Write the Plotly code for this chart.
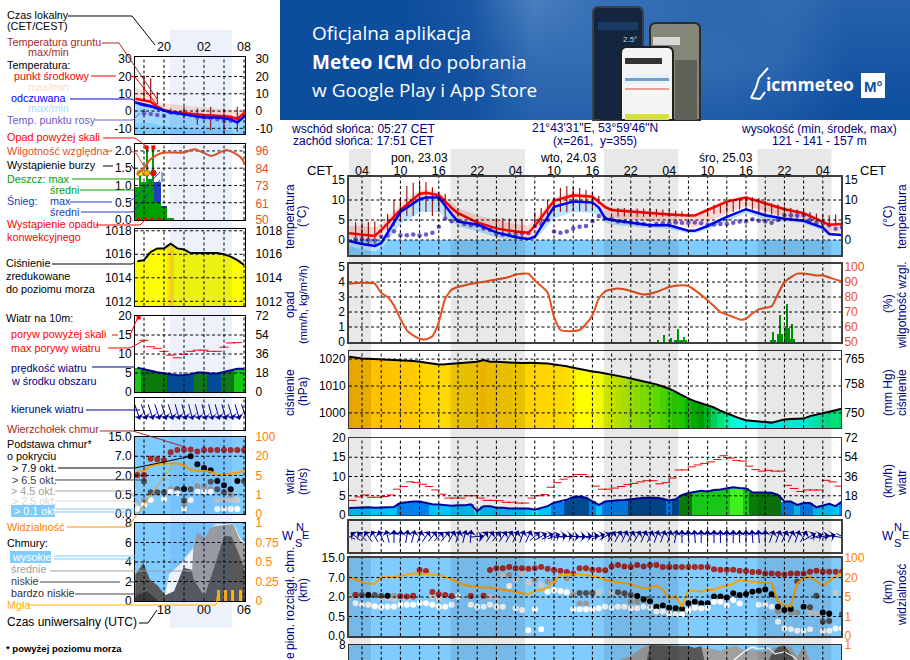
import numpy as np
import plotly.graph_objects as go

W, H = 910, 660
FONT = "Liberation Sans"
SKY = "#80ccff"
NAVY = "#000080"
ORANGE = "#ff8000"
HUM = "#e8501e"
DKRED = "#a52a2a"

# ---- main meteogram, hours counted from 23.03 00:00 CET
hours = list(range(2, 80))
knots = [2, 4, 6, 7, 10, 13, 14, 16, 18, 19, 22, 25, 28, 30, 31, 34, 37, 40, 41, 42, 43, 46, 49, 52, 55, 56, 58, 61, 64, 67, 70, 73, 76, 77, 79]
temp_mid = [1.7, 1.4, 1.0, 2.5, 7.5, 11.5, 11.8, 11.2, 8.0, 6.7, 4.4, 2.9, 2.1, 1.8, 3.5, 9.8, 11.2, 10.8, 9.6, 8.2, 7.5, 7.1, 6.8, 6.4, 6.1, 6.1, 7.5, 9.6, 10.6, 9.2, 7.7, 6.7, 4.6, 3.8, 4.0]
temp_felt = [-0.25, -1.0, -1.5, -0.8, 7.0, 10.2, 10.6, 10.6, 6.5, 4.6, 3.9, 1.9, 0.7, 0.25, 0.8, 8.3, 9.6, 9.4, 8.1, 5.4, 5.0, 4.4, 3.7, 3.7, 2.3, 2.3, 3.5, 5.8, 7.7, 6.2, 5.3, 4.8, 3.1, 1.5, 1.2]
temp_mid_hi = [3.5, 3.5, 3.2, 4.0, 9.0, 12.5, 12.6, 12.0, 9.5, 8.0, 6.2, 5.0, 4.0, 3.6, 5.0, 10.6, 12.0, 11.4, 10.2, 8.8, 8.2, 7.7, 7.3, 6.9, 6.6, 6.5, 7.9, 10.0, 11.1, 9.7, 8.2, 7.1, 5.2, 4.3, 4.4]
temp_mid_lo = [0.5, 0.2, -0.2, 1.0, 5.5, 8.0, 8.2, 7.8, 6.0, 4.8, 3.4, 1.4, 0.6, 0.4, 1.2, 6.5, 7.5, 7.4, 7.4, 6.0, 5.4, 5.2, 4.6, 4.6, 3.2, 3.0, 4.6, 6.6, 8.6, 7.2, 6.0, 5.4, 3.8, 2.2, 1.8]
temp_felt_lo = [-1.5, -2.4, -2.9, -2.2, 4.0, 6.8, 7.0, 7.0, 4.8, 3.4, 2.2, 0.6, 0.0, -0.4, -0.2, 5.4, 7.0, 6.8, 6.2, 4.4, 3.8, 3.4, 3.0, 2.8, 1.6, 1.6, 2.6, 4.6, 6.8, 5.2, 4.6, 4.2, 2.4, 1.2, 0.9]
ground_hours = [3, 4, 5, 6, 8, 9, 10, 11, 12, 13, 14, 15, 16, 17, 25, 26, 27, 28, 29, 31, 32, 33, 34, 35, 36, 37, 38, 39, 40, 41, 44, 45, 46, 47, 48, 49, 50, 51, 52, 53, 54, 55, 58, 59, 60, 61, 62, 63, 64, 65, 66, 67, 68, 69, 70, 71, 72, 73, 74, 75, 76, 77, 78]
ground_hi = [4.4, 4.4, 4.5, 4.6, 6.5, 10.0, 10.5, 13.5, 14.3, 14.3, 14.5, 13.2, 12.0, 11.5, 5.5, 5.5, 5.4, 5.4, 5.3, 7.0, 8.0, 10.0, 10.5, 13.0, 13.5, 13.3, 13.0, 12.5, 12.0, 11.0, 8.0, 8.0, 8.0, 7.9, 7.9, 7.8, 7.8, 7.6, 7.4, 7.3, 7.2, 7.0, 8.0, 8.8, 9.3, 9.8, 10.2, 10.6, 10.7, 10.7, 10.5, 9.8, 9.2, 8.9, 8.4, 8.0, 7.6, 7.4, 7.0, 6.6, 6.4, 6.2, 6.4]
ground_lo = [-1.0, -1.0, -1.0, -1.0, 2.0, 3.5, 5.0, 6.0, 6.0, 7.0, 7.0, 6.0, 7.0, 5.0, 1.0, 0.9, 0.8, 0.6, 0.6, 3.0, 4.0, 5.0, 6.0, 7.0, 7.0, 7.2, 7.2, 7.2, 7.4, 9.0, 5.9, 5.9, 5.9, 5.8, 5.8, 5.8, 5.8, 5.8, 5.8, 5.8, 5.8, 5.9, 6.0, 6.5, 6.7, 6.7, 7.0, 7.6, 8.0, 7.6, 7.0, 6.6, 6.4, 6.0, 5.5, 5.0, 5.0, 5.0, 4.4, 3.8, 3.5, 3.5, 3.6]
dew_hours = list(range(3, 80))
dew_point = [0.2, 0.2, 0.0, -0.1, 0.8, 1.1, 2.2, 1.2, 1.2, 1.4, 1.1, 1.4, 1.8, 3.3, 5.4, 4.7, 4.8, 4.0, 3.7, 3.7, 2.9, 2.5, 1.5, 1.4, 1.4, 1.4, 1.7, 1.7, 3.5, 4.0, 5.0, 2.1, 1.8, 2.1, 2.9, 3.3, 3.5, 4.7, 6.0, 5.4, 5.3, 4.6, 4.6, 4.3, 4.2, 4.0, 3.7, 4.0, 4.2, 4.2, 4.4, 4.3, 4.3, 4.4, 4.2, 3.9, 3.9, 4.0, 4.0, 4.3, 4.6, 4.6, 5.2, 4.8, 4.6, 4.3, 5.0, 6.2, 6.2, 6.1, 6.2, 5.0, 4.3, 4.2, 3.7, 2.8, 3.2]

hum_hours = [2, 4, 6, 7, 8, 9, 10, 11, 12, 13, 14, 15, 16, 17, 18, 19, 22, 25, 27, 28, 30, 31, 33, 34, 35, 36, 37, 38, 39, 40, 41, 42, 44, 46, 48, 50, 52, 54, 55, 58, 60, 62, 63, 64, 65, 66, 68, 69, 70, 72, 73, 75, 76, 78, 79]
humidity = [88.9, 89.5, 88.9, 82.7, 80.0, 74.4, 65.5, 57.8, 54.4, 52.2, 51.8, 53.8, 63.3, 78.9, 84.9, 86.7, 89.5, 91.6, 93.3, 95.0, 95.5, 91.0, 83.0, 66.7, 58.0, 57.3, 57.3, 58.0, 62.0, 67.8, 79.0, 83.8, 85.6, 84.0, 81.6, 83.3, 86.7, 87.8, 87.3, 77.8, 70.0, 66.7, 65.0, 65.5, 69.0, 71.8, 73.8, 82.0, 90.0, 95.6, 95.6, 94.4, 94.4, 91.6, 90.4]
rain_hours = [50.3, 51.2, 52.3, 53.3, 54.3, 68.2, 69.3, 70.4, 71.2]
rain_max = [0.1, 0.45, 0.3, 0.9, 0.35, 0.65, 1.8, 2.55, 1.2]
rain_mean = [0.0, 0.0, 0.0, 0.12, 0.12, 0.12, 0.55, 0.93, 0.2]

pressure = [1020.9, 1020.5, 1020.2, 1020.1, 1020.0, 1020.0, 1019.9, 1019.7, 1019.6, 1019.5, 1019.3, 1019.0, 1018.6, 1018.2, 1018.0, 1018.1, 1018.3, 1018.5, 1018.7, 1018.9, 1019.0, 1019.6, 1019.0, 1019.0, 1018.9, 1018.7, 1018.5, 1018.5, 1018.6, 1018.6, 1018.6, 1018.4, 1018.0, 1017.7, 1017.3, 1016.8, 1016.3, 1015.8, 1015.4, 1015.1, 1014.7, 1014.3, 1013.8, 1013.3, 1012.8, 1012.3, 1011.8, 1011.3, 1010.6, 1009.8, 1009.0, 1007.8, 1006.5, 1005.3, 1004.4, 1003.6, 1002.9, 1002.0, 1000.8, 999.8, 998.8, 998.0, 997.3, 997.0, 996.8, 996.6, 996.4, 997.0, 997.6, 997.7, 997.8, 997.9, 998.8, 999.3, 999.8, 1000.3, 1001.0, 1001.6]
wind = [1.8, 1.9, 2.0, 2.0, 1.9, 2.0, 2.1, 2.1, 3.1, 3.3, 3.5, 3.5, 3.2, 2.8, 2.7, 2.5, 2.4, 2.5, 2.5, 2.8, 1.0, 2.3, 2.3, 1.9, 1.9, 1.7, 1.7, 1.6, 1.7, 1.4, 1.9, 2.3, 3.2, 3.5, 4.0, 4.6, 4.8, 4.5, 3.6, 2.6, 3.5, 3.7, 3.8, 3.9, 4.1, 4.4, 4.5, 4.5, 4.5, 4.2, 3.8, 4.1, 5.2, 5.7, 6.0, 6.3, 6.1, 6.5, 6.6, 6.9, 7.2, 7.0, 6.9, 5.9, 5.9, 5.9, 5.8, 5.2, 3.5, 3.5, 2.6, 3.1, 3.1, 2.0, 2.4, 2.9, 2.3, 3.5]
gusts = [3.8, 4.7, 5.2, 4.6, 4.6, 4.8, 5.2, 6.7, 7.4, 8.6, 8.4, 8.0, 7.4, 6.5, 5.4, 4.4, 4.4, 4.4, 5.0, 5.0, 4.4, 3.8, 3.8, 3.7, 3.3, 3.3, 3.1, 3.1, 4.4, 5.0, 5.3, 7.2, 8.4, 9.3, 9.9, 10.5, 10.5, 9.9, 7.5, 6.7, 6.7, 7.0, 7.4, 7.9, 8.2, 8.6, 8.9, 8.9, 8.1, 8.4, 9.6, 11.7, 11.7, 12.5, 13.0, 13.4, 13.8, 14.4, 15.4, 14.8, 14.2, 14.0, 12.7, 11.8, 11.4, 11.6, 11.4, 11.4, 7.7, 6.9, 6.1, 6.5, 6.5, 6.5, 9.0, 8.6, 7.5]
wind_dir = [295, 310, 315, 325, 330, 335, 345, 0, 5, 10, 15, 20, 35, 40, 45, 40, 30, 20, 15, 5, 85, 40, 35, 40, 35, 30, 25, 20, 25, 50, 60, 65, 70, 80, 85, 90, 90, 85, 80, 70, 60, 35, 30, 25, 30, 30, 25, 25, 20, 20, 15, 10, 0, 355, 355, 0, 0, 0, 0, 0, 0, 0, 0, 355, 355, 0, 20, 20, 25, 25, 20, 30, 60, 70, 80, 75, 100, 120]

# cloud base, heights on the axis' five-step scale (0.0, 0.5, 2, 7, 15 km)
top_hours = [3, 10, 11, 12, 13, 14, 15, 16, 17, 18, 21, 23] + list(range(24, 80))
top_level = [2.1, 2.04, 2.02, 2.07, 3.38, 3.33, 2.26, 2.14, 2.1, 2.05, 2.05, 2.07, 3.38, 3.47, 3.47, 3.54, 3.47, 3.47, 3.45, 3.47, 3.54, 3.45, 3.38, 3.35, 3.28, 3.21, 3.47, 3.47, 3.4, 3.38, 3.37, 3.56, 3.64, 3.56, 3.54, 3.64, 3.56, 3.64, 3.64, 3.54, 3.54, 3.54, 3.54, 3.54, 3.54, 3.54, 3.54, 3.42, 3.4, 3.4, 3.4, 3.35, 3.33, 3.28, 3.28, 3.2, 3.2, 3.18, 3.16, 3.2, 3.2, 3.2, 3.3, 3.35, 3.3, 3.3, 3.3, 3.3]
black_hours = [5, 8, 47, 48, 49, 50, 51, 52, 53, 54, 55, 56, 57, 58, 59, 60, 61, 62, 63, 64, 65, 66, 67, 68, 69, 70, 71, 73, 76, 77]
black_level = [2.1, 2.07, 2.05, 1.88, 1.78, 1.5, 1.56, 1.45, 1.42, 1.39, 1.68, 1.76, 1.68, 1.68, 2.02, 2.02, 1.98, 2.19, 2.1, 2.15, 2.27, 2.32, 2.39, 2.14, 1.5, 1.33, 1.38, 1.5, 1.2, 1.16]
dark_hours = [3, 4, 6, 7, 38, 39, 40, 44, 45, 46, 72, 74, 75, 79, 76, 77]
dark_level = [2.1, 2.1, 2.1, 2.07, 2.2, 2.2, 2.2, 2.24, 2.19, 2.1, 2.8, 1.47, 2.07, 1.12, 0.73, 0.77]
grey_hours = [9, 10, 12, 27, 31, 33, 34, 36, 37, 46, 47, 48, 53, 54, 69, 71, 72, 38, 39]
grey_level = [2.07, 2.05, 2.0, 3.13, 2.87, 2.79, 2.82, 2.96, 2.12, 1.76, 1.76, 1.82, 1.25, 1.16, 1.25, 1.2, 1.2, 1.67, 1.67]
light_hours = [2, 7, 8, 9, 11, 15, 16, 23, 24, 25, 26, 28, 29, 30, 32, 35, 36, 41, 43, 74, 75, 78, 79]
light_level = [2.0, 1.95, 1.95, 1.9, 1.95, 2.0, 1.9, 2.05, 2.0, 1.95, 3.13, 2.87, 3.2, 2.74, 2.62, 2.3, 2.25, 2.25, 2.2, 1.2, 1.15, 2.2, 1.1]
white_hours = [3, 4, 5, 6, 7, 8, 9, 10, 11, 12, 13, 14, 15, 16, 17, 18, 19, 21, 22, 23, 24, 25, 26, 27, 28, 29, 30, 31, 32, 33, 34, 35, 36, 37, 38, 39, 40, 41, 42, 43, 44, 45, 46, 47, 48, 49, 50, 51, 52, 53, 54, 55, 56, 57, 58, 59, 60, 61, 62, 63, 66, 67, 68, 69, 70, 71, 72, 73, 74, 76, 77, 78, 79]
white_level = [1.68, 1.6, 1.6, 1.52, 1.49, 1.5, 1.5, 1.6, 1.6, 1.6, 1.68, 1.68, 1.6, 1.5, 1.5, 1.6, 2.02, 1.6, 1.5, 1.5, 1.6, 1.5, 1.5, 2.56, 1.42, 1.33, 0.3, 1.37, 0.34, 2.27, 2.36, 2.31, 2.24, 1.37, 1.37, 1.37, 1.37, 1.42, 1.5, 1.45, 1.5, 1.5, 1.42, 1.42, 1.5, 1.45, 1.25, 1.25, 1.16, 1.11, 1.11, 1.33, 1.45, 1.42, 1.45, 1.75, 1.75, 1.58, 1.84, 1.67, 1.6, 1.6, 1.5, 0.73, 0.39, 0.34, 0.27, 0.27, 0.34, 0.26, 0.27, 0.39, 0.39]
vis_level = [3.01, 2.91, 2.75, 2.68, 2.68, 3.01, 3.01, 3.01, 3.09, 3.16, 3.21, 3.21, 3.2, 3.16, 3.13, 3.04, 2.91, 2.75, 2.62, 2.56, 2.51, 2.48, 2.5, 2.41, 2.38, 2.32, 2.27, 2.19, 2.14, 2.31, 2.36, 2.48, 2.79, 3.13, 3.15, 3.16, 3.15, 3.13, 3.08, 3.01, 2.87, 2.82, 2.75, 2.7, 2.65, 2.53, 2.44, 2.48, 2.58, 2.39, 1.9, 2.07, 1.5, 2.36, 2.31, 2.27, 2.39, 2.36, 2.51, 2.58, 2.7, 2.87, 2.82, 2.79, 2.75, 2.74, 2.7, 1.76, 1.56, 1.52, 2.7, 2.96, 3.04, 2.82, 2.58, 2.82, 3.04, 3.21]

strip_mid_h = [44, 46, 48, 49, 58, 60, 61.5, 62.5, 63.5, 65, 67, 68, 69.6, 71, 72, 73, 74]
strip_mid = [6.4, 6.9, 7.8, 8.0, 7.7, 7.4, 7.8, 7.9, 7.5, 7.5, 7.3, 7.6, 8.0, 7.8, 6.8, 7.9, 6.4]
strip_low_h = [48.5, 49, 55, 56, 57, 57.5, 67.5, 68, 69, 70, 71, 71.5]
strip_low = [6.4, 8.0, 7.9, 7.7, 7.9, 6.4, 6.4, 7.0, 7.8, 7.9, 7.1, 6.4]
strip_high_h = [62, 63.5, 64.9, 66, 67.5, 68.5, 70, 71.5, 72]
strip_high = [6.4, 7.2, 7.8, 7.6, 7.7, 7.1, 7.3, 6.8, 6.4]

# ---- left legend meteogram
l_hours = list(range(16, 33))
l_temp_h = [15.7, 17, 18, 19, 20, 21, 22, 24, 26, 28, 30, 31, 32.2]
l_temp_mid = [7.1, 6.3, 5.4, 2.5, 0.6, -0.4, -0.8, -1.3, -2.3, -2.7, -3.3, -4.6, -0.5]
l_temp_felt = [5.0, 4.0, 2.9, 1.5, 0.2, -0.8, -1.3, -2.3, -3.7, -3.7, -4.8, -6.7, -2.6]
l_temp_hi = [13.7, 12.0, 10.2, 5.4, 4.5, 4.0, 3.5, 2.8, 2.1, 1.4, 0.6, 0.4, 0.4]
l_temp_lo = [3.0, 2.0, 1.0, -0.5, -1.5, -2.0, -3.0, -4.0, -5.0, -5.5, -6.5, -8.0, -4.0]
l_felt_lo = [-7.0, -7.0, -7.0, -8.0, -9.0, -9.0, -10.0, -10.0, -10.5, -10.5, -11.0, -13.0, -8.0]
l_ground_h = [17, 18, 19, 21, 23, 25, 27, 29, 31]
l_ground_hi = [20.8, 19.0, 11.0, 1.5, 2.5, 1.5, 2.5, 1.5, 2.5]
l_ground_lo = [6.0, 5.0, 4.0, -2.0, -4.5, -8.0, -11.0, -13.0, -12.0]
l_dew_h = [17, 18, 19, 20, 21, 22, 23, 24, 25, 26, 27, 28, 29, 30, 31]
l_dew = [-1.3, -1.7, -2.3, -2.7, -0.8, -1.3, -1.7, -2.3, -3.7, -3.7, -4.2, -4.8, -5.6, -5.6, -4.2]

l_rain_h = [16, 17, 18, 19, 20, 21]
l_rain = [0.96, 1.1, 1.18, 0.52, 0.34, 0.05]
l_snow = [0.96, 1.1, 1.18, 1.1, 0.41, 0.05]
l_rain_max_h = [16.4, 17.4, 18.4]
l_rain_max = [1.36, 2.1, 2.1]
l_storm_h = [16.4, 17.4, 18.4]
l_storm_col = ["#ffff00", "#ffb000", "#ff0000"]
l_hum_h = [15.9, 16.9, 17.9, 18.9, 20, 22.9, 24.6, 27.1, 29.4, 31.4, 32.2]
l_hum = [80, 84, 90, 93, 94.7, 94.7, 97, 92.5, 96.5, 92, 87]
l_conv_h = [16.2, 17.2, 18.2, 19.2]
l_above_h = [17.4, 18.4]

l_pressure = [1015.4, 1015.5, 1016.2, 1016.5, 1016.5, 1016.9, 1016.5, 1016.4, 1016.1, 1016.1, 1016.1, 1016.1, 1016.1, 1016.0, 1015.8, 1015.5, 1015.1]
l_wind = [6.4, 5.9, 5.6, 5.2, 5.0, 4.7, 4.4, 4.4, 4.7, 5.1, 5.1, 4.9, 4.9, 5.3, 5.8, 6.1, 6.1]
l_gust_h = [17, 18, 19, 20, 21, 22, 23, 24, 25, 26, 27, 28, 29, 30, 31]
l_gust = [13.6, 11.9, 11.5, 10.7, 9.7, 9.0, 9.9, 10.7, 11.0, 11.0, 10.7, 10.7, 11.8, 12.9, 13.0]
l_dir = [161, 161, 162, 162, 163, 163, 164, 164, 165, 165, 165, 165, 164, 164, 163, 163, 162]

l_top_h = [16, 17, 18, 19, 20, 21, 22, 23, 24, 25, 26, 27, 28, 29, 30, 31, 32]
l_top = [2.02, 2.02, 2.87, 2.84, 2.79, 3.21, 3.33, 3.35, 3.35, 3.25, 3.33, 3.33, 3.33, 3.33, 3.33, 3.33, 3.33]
l_black_h = [24, 25, 26, 27, 28, 29, 30, 31, 23]
l_black = [3.0, 2.58, 2.39, 2.27, 1.72, 1.5, 1.28, 1.72, 1.3]
l_dark_h = [17, 18, 19, 20, 22, 24, 27, 28, 29, 32, 23]
l_dark = [1.7, 1.13, 1.13, 1.13, 1.28, 1.28, 1.68, 1.28, 1.13, 1.72, 0.7]
l_grey_h = [17, 21, 22, 25, 26, 27, 30, 23]
l_grey = [0.7, 1.28, 1.28, 1.45, 1.43, 1.28, 1.0, 0.53]
l_light_h = [16, 21, 25, 28, 29, 30, 31]
l_light = [0.43, 1.28, 1.5, 0.73, 0.73, 0.73, 0.73]
l_white_h = [16, 17, 18, 20, 21, 22, 23, 24, 25, 26, 27, 28, 29, 30, 31]
l_white = [0.26, 0.48, 0.73, 0.77, 1.16, 1.08, 0.26, 0.73, 1.16, 1.16, 1.16, 0.26, 0.26, 0.26, 0.26]
l_vis_h = [16, 17, 18, 19, 20, 21, 22, 23, 24, 25, 26, 27, 28, 29, 30, 31, 32.2]
l_vis = [2.24, 2.24, 2.5, 2.58, 2.62, 2.62, 2.62, 2.53, 2.31, 2.24, 2.24, 2.19, 2.05, 2.05, 2.1, 2.14, 2.27]

l_high_h = [20.15, 20.9, 22.4, 23.4, 24.65, 26.15, 26.9, 27.65, 30.4, 31.4, 32.15]
l_high = [0.3, 2.8, 3.7, 4.5, 5.6, 5.9, 7.3, 7.8, 7.9, 6.4, 5.8]
l_mid_h = [24.15, 24.4, 25, 26.15, 26.9, 27.65, 30.4, 31.4, 32.15]
l_mid = [2.3, 5.4, 7.1, 6.4, 7.5, 7.7, 7.9, 6.3, 5.6]
l_low_h = [15.7, 16.9, 17.9, 19.15, 20.15, 21.5, 22.9, 24.15, 24.4, 26.05, 27.65, 29.05, 30.15, 31.4, 32.15]
l_low = [2.7, 3.9, 2.2, 1.5, 0.6, 1.0, 3.4, 3.2, 2.3, 0.45, 3.7, 6.7, 6.6, 4.5, 3.0]
l_vlow_h = [15.7, 17.4, 18.65, 19.15]
l_vlow = [0.45, 1.0, 0.3, 0.0]
l_fog_h = [28.15, 29.25, 30.3, 31.4]
l_fog = [0.14, 0.14, 0.14, 0.14]

banner_z = [[0, 0, 0, 0.2, 1, 0.7, 0.6, 0.5, 0.6, 0.4, 0.4],
            [0, 0, 0, 0.1, 0.6, 0.6, 0.6, 0.6, 0.5, 0.2, 0.2],
            [0, 0, 0, 0.1, 0.4, 0.4, 0.3, 0.3, 0.2, 0, 0]]

P_SCALE = [[0, "#00ffff"], [0.1, "#00ffe0"], [0.16, "#00f090"], [0.24, "#00d060"], [0.3, "#009a00"], [0.4, "#10c000"],
           [0.52, "#40e000"], [0.6, "#70f000"], [0.68, "#b0f000"], [0.74, "#e0f800"], [0.78, "#ffff00"], [0.825, "#ffff00"],
           [0.835, "#ffe000"], [0.9, "#ffd500"], [0.94, "#ffc800"], [1, "#ffb000"]]
W_EDGES = [0, 0.15, 0.3, 0.4, 0.5, 0.595, 0.7, 1]
W_COLS = ["#00f0ff", "#00c4ff", "#0080f0", "#004a90", "#0a7a0a", "#18c818", "#40f020"]
W_SCALE = []
for i, c in enumerate(W_COLS):
    W_SCALE += [[W_EDGES[i], c], [W_EDGES[i + 1], c]]

fig = go.Figure()
layout = {}
shapes = []
notes = []


def panel(n, x0, x1, y0, y1, xr, yr, lt=None, ltxt=None, rt=None, rtxt=None, rr=None, rcol="black", rlen=0,
          frame="black", lw=1, size=12):
    base = dict(showgrid=False, zeroline=False, showline=True, mirror=True, linecolor=frame, linewidth=lw, fixedrange=True)
    layout[f"xaxis{n}"] = dict(base, domain=[x0 / W, x1 / W], range=xr, anchor=f"y{n}", showticklabels=False, ticks="")
    layout[f"yaxis{n}"] = dict(base, domain=[1 - y1 / H, 1 - y0 / H], range=yr, anchor=f"x{n}",
                               tickvals=lt or [], ticktext=ltxt or [], ticks="", ticklen=0,
                               tickfont=dict(family=FONT, size=size, color="black"))
    if rt is not None:
        layout[f"yaxis{n + 50}"] = dict(showgrid=False, zeroline=False, showline=False, fixedrange=True,
                                        domain=[1 - y1 / H, 1 - y0 / H], range=rr, overlaying=f"y{n}", side="right",
                                        anchor=f"x{n}", tickvals=rt, ticktext=rtxt, ticks="outside", ticklen=rlen,
                                        tickcolor="rgba(0,0,0,0)", tickfont=dict(family=FONT, size=size, color=rcol))
        add(n, [None], [None], mode="lines", yaxis=f"y{n + 50}")


def add(n, x, y, **kw):
    kw.setdefault("yaxis", f"y{n}")
    fig.add_trace(go.Scatter(x=x, y=y, xaxis=f"x{n}", hoverinfo="skip", showlegend=False, **kw))


def add_bar(n, x, y, color, width=1.0, **kw):
    kw.setdefault("yaxis", f"y{n}")
    fig.add_trace(go.Bar(x=x, y=y, xaxis=f"x{n}", width=width, marker=dict(color=color, line_width=0, **kw.pop("mk", {})),
                         hoverinfo="skip", showlegend=False, **kw))


def grid(n, xt, yt):
    xr = layout[f"xaxis{n}"]["range"]
    yr = layout[f"yaxis{n}"]["range"]
    xs, ys = [], []
    for t in xt:
        xs += [t, t, None]
        ys += [yr[0], yr[1], None]
    for t in yt:
        xs += [xr[0], xr[1], None]
        ys += [t, t, None]
    add(n, xs, ys, mode="lines", line=dict(color="black", width=1, dash="3px,2.5px"))


def band(n, x, hi, lo, color):
    add(n, x, lo, mode="lines", line=dict(width=0, color=color))
    add(n, x, hi, mode="lines", line=dict(width=0, color=color), fill="tonexty", fillcolor=color)


def spans(n, x, hi, lo, color, width=1.2):
    xs, ys = [], []
    for t, a, b in zip(x, hi, lo):
        xs += [t, t, None]
        ys += [b, a, None]
    add(n, xs, ys, mode="lines", line=dict(color=color, width=width))


def sky(n):
    shapes.append(dict(type="rect", xref=f"x{n} domain", yref=f"y{n} domain", x0=0, x1=1, y0=0, y1=1,
                       fillcolor=SKY, line_width=0, layer="below"))


def arrows(n, h, deg, half, pxh, yc):
    rad = np.radians(deg)
    xs, ys = [], []
    for t, a in zip(h, rad):
        xs += [t - half * np.sin(a) / pxh, t + half * np.sin(a) / pxh, None]
        ys += [yc - half * np.cos(a), yc + half * np.cos(a), None]
    add(n, xs, ys, mode="lines", line=dict(color="#000090", width=1), cliponaxis=False)
    tipx = [t + half * np.sin(a) / pxh for t, a in zip(h, rad)]
    tipy = [yc + half * np.cos(a) for a in rad]
    add(n, tipx, tipy, mode="markers", cliponaxis=False,
        marker=dict(symbol="arrow-wide", size=9, angle=[float(d) for d in deg], color="#000090", line_width=0))


def dots(n, x, y, color, size=6):
    add(n, x, y, mode="markers", marker=dict(color=color, size=size, line_width=0))


def note(x, y, text, color="black", anchor="left", size=12, angle=0, bg=None, family=FONT):
    notes.append(dict(x=x / W, y=1 - y / H, xref="paper", yref="paper", text=text, showarrow=False, xanchor=anchor,
                      yanchor="middle", textangle=angle, font=dict(family=family, size=size, color=color),
                      bgcolor=bg, borderpad=0))


def leader(color, *pts, width=1):
    path = "M" + " L".join(f"{x / W:.5f},{1 - y / H:.5f}" for x, y in pts)
    shapes.append(dict(type="path", xref="paper", yref="paper", path=path, line=dict(color=color, width=width), layer="above"))


# ---- banner
layout["xaxis30"] = dict(domain=[280 / W, 1], range=[0, 10], visible=False, fixedrange=True, anchor="y30")
layout["yaxis30"] = dict(domain=[1 - 120 / H, 1], range=[2, 0], visible=False, fixedrange=True, anchor="x30")
fig.add_trace(go.Heatmap(z=banner_z, xaxis="x30", yaxis="y30", zsmooth="best", showscale=False, hoverinfo="skip",
                         colorscale=[[0, "#0d4d9e"], [1, "#4a80bf"]], zmin=0, zmax=1))


def box(x0, y0, x1, y1, fill, line=None, lw=1):
    shapes.append(dict(type="rect", xref="paper", yref="paper", x0=x0 / W, x1=x1 / W, y0=1 - y1 / H, y1=1 - y0 / H,
                       fillcolor=fill, line=dict(color=line or fill, width=lw if line else 0), layer="above"))


def phone(x0, y0, x1, y1, fill, edge):
    r = 6
    path = (f"M{x0 / W:.5f},{1 - y1 / H:.5f} L{x0 / W:.5f},{1 - (y0 + r) / H:.5f} "
            f"Q{x0 / W:.5f},{1 - y0 / H:.5f} {(x0 + r) / W:.5f},{1 - y0 / H:.5f} "
            f"L{(x1 - r) / W:.5f},{1 - y0 / H:.5f} Q{x1 / W:.5f},{1 - y0 / H:.5f} {x1 / W:.5f},{1 - (y0 + r) / H:.5f} "
            f"L{x1 / W:.5f},{1 - y1 / H:.5f} Z")
    shapes.append(dict(type="path", xref="paper", yref="paper", path=path, fillcolor=fill,
                       line=dict(color=edge, width=2), layer="above"))


phone(593, 7, 643, 120, "#13253f", "#3a3f48")
box(598, 22, 638, 30, "#1c3a66")
box(600, 60, 620, 120, "#16263f")
phone(650, 23, 700, 120, "#85877a", "#2c2c2c")
box(653, 37, 680, 45, "#d8d8d8")
box(675, 60, 697, 120, "#5e6258")
phone(621, 47, 673, 120, "#f4f6f6", "#202020")
box(625, 58, 662, 64, "#333333")
box(625, 74, 669, 84, "#e9f2f8")
box(625, 78, 669, 81, "#6f9fcf")
box(625, 88, 669, 90, "#e8a090")
box(625, 114, 669, 120, "#d8e040")
box(861, 73, 885, 98, "#ffffff")
leader("#ffffff", (751, 98), (756, 88), (759, 78), (768, 68), width=2)
leader("#ffffff", (751, 98), (760, 99), (765, 92), width=2)
note(311, 33, "Oficjalna aplikacja", "white", size=19, family="Open Sans")
note(311, 62, "<b>Meteo ICM</b> do pobrania", "white", size=19, family="Open Sans")
note(311, 90, "w Google Play i App Store", "white", size=19, family="Open Sans")
note(765, 84, "<b>icmmeteo</b>", "white", size=17.5, family="Open Sans")
note(873, 86, "<b>M°</b>", "#0d4d9e", anchor="center", size=15)
note(622, 40, "2.5°", "#c8d4e4", size=8)

# ---- main panels
XM = [1.97, 78.84]
GM = list(range(4, 80, 3))
LX, RX = 349, 841
panel(8, LX, RX, 177, 255, XM, [-3.75, 15.75], [0, 5, 10, 15], ["0", "5", "10", "15"], [0, 5, 10, 15], ["0", "5", "10", "15"],
      [-3.75, 15.75], frame="#404040", lw=1.5)
layout["xaxis8"].update(showticklabels=True, side="top", tickvals=[4, 10, 16, 22, 28, 34, 40, 46, 52, 58, 64, 70, 76],
                        ticktext=["04", "10", "16", "22", "04", "10", "16", "22", "04", "10", "16", "22", "04"],
                        tickfont=dict(family=FONT, size=12.5, color="black"), ticklabelstandoff=-5)
shapes.append(dict(type="rect", xref="x8 domain", yref="y8", x0=0, x1=1, y0=-3.75, y1=0, fillcolor=SKY, line_width=0, layer="below"))
band(8, knots, temp_mid_hi, temp_mid_lo, "#ffd8d4")
band(8, knots, temp_felt, temp_felt_lo, "#b8e4ff")
spans(8, ground_hours, ground_hi, ground_lo, "#a01818")
dots(8, dew_hours, dew_point, "#6a5acd", 4.5)
add(8, knots, temp_mid, mode="lines", line=dict(color="#ff0000", width=2.5))
add(8, knots, temp_felt, mode="lines", line=dict(color="#0000ff", width=2.5))
grid(8, GM, [0, 5, 10])

panel(2, LX, RX, 264, 342, XM, [0, 5.2], [0, 1, 2, 3, 4, 5], ["0", "1", "2", "3", "4", "5"], [50, 60, 70, 80, 90, 100],
      ["50", "60", "70", "80", "90", "100"], [50, 102], rcol=HUM, frame="#404040", lw=1.5)
add_bar(2, rain_hours, rain_max, "#00a000", width=0.16)
add_bar(2, rain_hours, rain_mean, "#00a000", width=1.0)
add(2, hum_hours, humidity, yaxis="y52", mode="lines", line=dict(color=HUM, width=2, shape="spline", smoothing=0.5))
grid(2, GM, [1, 2, 3, 4])

panel(3, LX, RX, 351, 428, XM, [994.4, 1023], [1000, 1010, 1020], ["1000", "1010", "1020"], [750, 758, 765], ["750", "758", "765"],
      [745.9, 767], frame="#303030", lw=1)
add_bar(3, hours, pressure, pressure, mk=dict(colorscale=P_SCALE, cmin=996, cmax=1021))
add(3, hours, pressure, mode="lines", line=dict(color="black", width=2))
grid(3, GM, [1000, 1010, 1020])

panel(4, LX, RX, 438, 515, XM, [0, 20], [0, 5, 10, 15, 20], ["0", "5", "10", "15", "20"], [0, 18, 36, 54, 72], ["0", "18", "36", "54", "72"],
      [0, 72], frame="#404040", lw=1)
add_bar(4, hours, wind, wind, mk=dict(colorscale=W_SCALE, cmin=0, cmax=10))
add(4, hours, wind, mode="lines", line=dict(color="#0000a0", width=2))
add(4, [h + 0.5 for h in hours[:-1]], gusts, mode="markers", marker=dict(symbol="line-ew", size=6, line=dict(color="#ff0000", width=1)))
grid(4, GM, [5, 10, 15])

panel(5, LX, RX, 521, 552, XM, [-15.5, 15.5], frame="#404040", lw=1.5)
arrows(5, hours, np.array(wind_dir), 6.5, 6.4, 0)
grid(5, GM, [])

LEV = [0, 1, 2, 3, 4]
panel(6, LX, RX, 558, 636, XM, [0, 4], LEV, ["0.0", "0.5", "2.0", "7.0", "15.0"], LEV, ["0", "1", "5", "20", "100"], [0, 4], rcol=ORANGE,
      frame="#404040", lw=1.5)
sky(6)
dots(6, light_hours, light_level, "#c8c8c8")
dots(6, grey_hours, grey_level, "#989898")
dots(6, dark_hours, dark_level, "#505050")
dots(6, black_hours, black_level, "#000000")
dots(6, white_hours, white_level, "#ffffff")
dots(6, top_hours, top_level, "#a52a2a")
add(6, hours, vis_level, mode="lines", line=dict(color="#ffa000", width=2))
grid(6, GM, [1, 2, 3])

panel(7, LX, RX, 645, 660, XM, [6.46, 8], [8], ["8"], [8], ["1"], [6.46, 8], rcol=ORANGE, frame="#303030", lw=1)
sky(7)
add(7, strip_mid_h, strip_mid, mode="lines", line=dict(width=0), fill="tozeroy", fillcolor="#a0a0a0")
add(7, strip_low_h, strip_low, mode="lines", line=dict(width=0), fill="tozeroy", fillcolor="#585858")
add(7, strip_high_h, strip_high, mode="lines", line=dict(color="white", width=1.2))
grid(7, GM, [])

# ---- legend panels
XL = [15.65, 32.15]
GL = [17, 20, 23, 26, 29, 32]
LL, RL = 135, 245
panel(11, LL, RL, 57, 134, XL, [-13.3, 31.3], [-10, 0, 10, 20, 30], ["-10", "0", "10", "20", "30"], [-10, 0, 10, 20, 30],
      ["-10", "0", "10", "20", "30"], [-13.3, 31.3], rlen=7, size=12)
layout["xaxis11"].update(showticklabels=True, side="top", tickvals=[20, 26, 32], ticktext=["20", "02", "08"],
                         tickfont=dict(family=FONT, size=12.5, color="black"))
shapes.append(dict(type="rect", xref="x11 domain", yref="y11", x0=0, x1=1, y0=-13.3, y1=0, fillcolor=SKY, line_width=0, layer="below"))
band(11, l_temp_h, l_temp_hi, l_temp_lo, "#ffe0d4")
band(11, l_temp_h, l_temp_felt, l_felt_lo, "#9ed8ff")
spans(11, l_ground_h, l_ground_hi, l_ground_lo, "#a01818")
dots(11, l_dew_h, l_dew, "#6a5acd", 4.5)
add(11, l_temp_h, l_temp_mid, mode="lines", line=dict(color="#ff0000", width=2.5))
add(11, l_temp_h, l_temp_felt, mode="lines", line=dict(color="#0000ff", width=2.5))
grid(11, GL, [-10, 0, 10, 20])

panel(12, LL, RL, 144, 220, XL, [0, 2.2], [0, 0.5, 1, 1.5, 2], ["0.0", "0.5", "1.0", "1.5", "2.0"], [50, 61, 73, 84, 96],
      ["50", "61", "73", "84", "96"], [50, 100.4], rcol=HUM, rlen=7, size=12)
add_bar(12, l_rain_h, l_snow, "#2040c0")
add_bar(12, l_rain_h, l_rain, "#00a000")
add_bar(12, l_rain_max_h, l_rain_max, "#00a000", width=0.16)
add(12, [19.7, 19.7], [1.1, 1.4], mode="lines", line=dict(color="#2040c0", width=1))
add(12, l_hum_h, l_hum, yaxis="y62", mode="lines", line=dict(color=HUM, width=2, shape="spline", smoothing=0.6))
grid(12, GL, [0.5, 1, 1.5, 2])
add(12, l_storm_h, [1.36, 1.36, 1.36], mode="markers", marker=dict(color=l_storm_col, size=6, line=dict(color="#503000", width=0.5)))
add(12, l_above_h, [2.1, 2.1], mode="markers", marker=dict(color="#ff0000", size=4, symbol="square"), cliponaxis=False)
add(12, l_conv_h, [0.02] * 4, mode="markers", marker=dict(color="#ff0000", size=4), cliponaxis=False)

panel(13, LL, RL, 229, 306, XL, [1011.6, 1018.15], [1012, 1014, 1016, 1018], ["1012", "1014", "1016", "1018"], [1012, 1014, 1016, 1018],
      ["1012", "1014", "1016", "1018"], [1011.6, 1018.15], rlen=7, size=12)
add_bar(13, l_hours, l_pressure, l_pressure, mk=dict(colorscale=P_SCALE, cmin=996, cmax=1021))
add(13, l_hours, l_pressure, mode="lines", line=dict(color="black", width=2))
grid(13, GL, [1012, 1014, 1016, 1018])

panel(14, LL, RL, 316, 392, XL, [0, 20], [0, 5, 10, 15, 20], ["0", "5", "10", "15", "20"], [0, 18, 36, 54, 72],
      ["0", "18", "36", "54", "72"], [0, 72], rlen=7, size=12)
add_bar(14, l_hours, l_wind, l_wind, mk=dict(colorscale=W_SCALE, cmin=0, cmax=10))
add(14, l_hours, l_wind, mode="lines", line=dict(color="#0000a0", width=2))
add(14, l_gust_h, l_gust, mode="markers", marker=dict(symbol="line-ew", size=6.5, line=dict(color="#ff0000", width=1)))
add(14, [16.2], [19.6], mode="markers", marker=dict(color="#ff0000", size=4, symbol="square"), cliponaxis=False)
grid(14, GL, [5, 10, 15])

panel(15, LL, RL, 398, 430, XL, [-16, 16], size=12)
arrows(15, l_hours, np.array(l_dir), 8, 6.67, 2)
grid(15, GL, [])

panel(16, LL, RL, 437, 514, XL, [0, 4], LEV, ["0.0", "0.5", "2.0", "7.0", "15.0"], LEV, ["0", "1", "5", "20", "100"], [0, 4], rcol=ORANGE, rlen=7, size=12)
sky(16)
dots(16, l_light_h, l_light, "#c8c8c8")
dots(16, l_grey_h, l_grey, "#989898")
dots(16, l_dark_h, l_dark, "#505050")
dots(16, l_black_h, l_black, "#000000")
dots(16, l_white_h, l_white, "#ffffff")
dots(16, l_top_h, l_top, "#a52a2a")
add(16, l_vis_h, l_vis, mode="lines", line=dict(color="#ffa000", width=2))
grid(16, GL, [1, 2, 3])

panel(17, LL, RL, 523, 601, XL, [0, 8], [0, 2, 4, 6, 8], ["0", "2", "4", "6", "8"], [0, 0.25, 0.5, 0.75, 1],
      ["0", "0.25", "0.5", "0.75", "1"], [0, 1], rcol=ORANGE, rlen=7, size=12)
layout["xaxis17"].update(showticklabels=True, tickvals=[20, 26, 32], ticktext=["18", "00", "06"],
                         tickfont=dict(family=FONT, size=12.5, color="black"), ticklabelstandoff=-3)
sky(17)
add(17, l_high_h, l_high, mode="lines", line=dict(width=1, color="white"), fill="tozeroy", fillcolor="#ffffff")
add(17, l_mid_h, l_mid, mode="lines", line=dict(width=0), fill="tozeroy", fillcolor="#a0a0a0")
add(17, l_low_h, l_low, mode="lines", line=dict(width=0), fill="tozeroy", fillcolor="#585858")
add(17, l_vlow_h, l_vlow, mode="lines", line=dict(width=0), fill="tozeroy", fillcolor="#383838")
add_bar(17, l_fog_h, l_fog, "#ffb400", width=0.45, yaxis="y67")
grid(17, GL, [2, 4, 6])

# ---- day / night bands, laid over the panels
for a, b in [(349, 371), (450.5, 525), (604, 678.5), (757.5, 831.5)]:
    shapes.append(dict(type="rect", xref="paper", yref="paper", x0=a / W, x1=b / W, y0=0, y1=1 - 149 / H,
                       fillcolor="rgba(0,0,0,0.09)", line_width=0, layer="above"))
shapes.append(dict(type="rect", xref="paper", yref="paper", x0=170 / W, x1=232 / W, y0=1 - 628 / H, y1=1 - 30 / H,
                   fillcolor="rgba(30,90,210,0.085)", line_width=0, layer="above"))

# ---- leaders of the legend
leader("black", (68, 16), (132, 16), (155, 45))
leader(DKRED, (102, 43), (119, 43), (157, 99))
leader("#ff0000", (91, 76), (116, 76))
leader("#ff0000", (130, 76), (135, 77), (157, 105))
leader("#0000ff", (70, 99), (132, 99), (140, 105), (165, 110))
leader("#6a5acd", (95, 120), (133, 120), (140, 113))
leader("#ff0000", (103, 138), (135, 138), (146, 146))
leader(HUM, (106, 151), (112, 151))
leader(HUM, (130, 151), (136, 153), (145, 168))
leader("black", (103, 166), (113, 166))
leader("black", (131, 165), (135, 170))
leader("#00a000", (72, 179), (140, 179))
leader("#00a000", (80, 190), (150, 190))
leader("#2040c0", (70, 202), (112, 202))
leader("#2040c0", (128, 202), (136, 197), (160, 172))
leader("#2040c0", (81, 212), (133, 212), (160, 180))
leader("#ff0000", (96, 225), (140, 225), (147, 218))
leader("black", (52, 264), (132, 264), (135, 262))
leader("#ff0000", (112, 335), (118, 335))
leader("#ff0000", (130, 335), (138, 317))
leader("#ff0000", (108, 348), (130, 348), (145, 340))
leader(NAVY, (92, 367), (135, 367))
leader(NAVY, (86, 410), (140, 410))
leader(DKRED, (100, 431), (133, 431), (185, 447))
leader("black", (58, 468), (135, 468), (192, 456))
leader("#404040", (55, 480), (142, 480))
leader("#a0a0a0", (55, 491), (130, 491), (140, 505))
leader("#d8d8d8", (55, 501), (133, 501), (140, 510))
leader("#80ccff", (55, 509), (137, 509))
leader("#80ccff", (55, 512), (137, 512))
leader("#ff9000", (67, 527), (128, 527), (172, 466))
leader("#80ccff", (54, 556), (185, 556))
leader("#80ccff", (54, 559), (135, 559))
leader("#a0a0a0", (50, 571), (192, 571))
leader("#404040", (40, 582), (120, 582))
leader("#404040", (130, 582), (135, 582))
leader("#404040", (75, 594), (150, 594))
leader("#ffb400", (27, 605), (216, 605), (218, 592))
leader("black", (139, 623), (148, 623), (157, 610))

# ---- legend text
for x, y, t, c in [
    (6, 15, "Czas lokalny", "black"), (6, 26, "(CET/CEST)", "black"),
    (6, 42, "Temperatura gruntu", DKRED), (27, 52, "max/min", DKRED),
    (6, 65, "Temperatura:", "black"), (13, 76, "punkt środkowy", "#ff0000"), (27, 87, "max/min", "#ffd9c9"),
    (10, 98, "odczuwana", "#0000ff"), (27, 108, "max/min", "#a8dcff"), (6, 120, "Temp. punktu rosy", "#6a5acd"),
    (6, 137, "Opad powyżej skali", "#ff0000"), (6, 151, "Wilgotność względna", HUM), (6, 165, "Wystąpienie burzy", "black"),
    (6, 179, "Deszcz: max", "#00a000"), (49, 190, "średni", "#00a000"), (6, 201, "Śnieg:", "#2040c0"),
    (49, 201, "max", "#2040c0"), (49, 212, "średni", "#2040c0"),
    (6, 224, "Wystąpienie opadu", "#ff0000"), (6, 237, "konwekcyjnego", "#ff0000"),
    (5, 263, "Ciśnienie", "black"), (5, 276, "zredukowane", "black"), (5, 289, "do poziomu morza", "black"),
    (5, 318, "Wiatr na 10m:", "black"), (10, 334, "poryw powyżej skali", "#ff0000"), (10, 348, "max porywy wiatru", "#ff0000"),
    (10, 368, "prędkość wiatru", NAVY), (10, 381, "w środku obszaru", NAVY), (10, 409, "kierunek wiatru", NAVY),
    (6, 429, "Wierzchołek chmur", DKRED), (6, 444, "Podstawa chmur*", "black"), (6, 456, "o pokryciu", "black"),
    (11, 468, "> 7.9 okt.", "black"), (11, 480, "> 6.5 okt.", "#404040"), (10, 491, "> 4.5 okt.", "#a0a0a0"),
    (11, 501, "> 2.5 okt.", "#d8d8d8"), (6, 527, "Widzialność", ORANGE), (6, 543, "Chmury:", "black"),
    (10, 569, "średnie", "#a0a0a0"), (10, 581, "niskie", "#404040"), (10, 593, "bardzo niskie", "#303030"),
    (6, 605, "Mgła", "#ffb000"),
]:
    note(x, y, t, c, size=10.8)
note(6, 622, "Czas uniwersalny (UTC)", size=12)
box(11, 505, 55, 517, SKY)
box(10, 551, 51, 563, SKY)
note(13, 511, "> 0.1 okt.", "white", size=10.8)
note(11, 557, "wysokie", "white", size=10.8)
note(5, 648, "<b>* powyżej poziomu morza</b>", size=9.5)

# ---- header
note(290, 129, "wschód słońca: 05:27 CET", NAVY)
note(292, 141, "zachód słońca: 17:51 CET", NAVY)
note(595, 128, "21°43'31\"E, 53°59'46\"N", NAVY, "center")
note(595, 141, "(x=261,  y=355)", NAVY, "center")
note(819, 129, "wysokość (min, środek, max)", NAVY, "center")
note(819, 141, "121 - 141 - 157 m", NAVY, "center")
note(419, 158, "pon, 23.03", anchor="center")
note(568, 158, "wto, 24.03", anchor="center")
note(726, 158, "śro, 25.03", anchor="center")
note(306, 170, "CET", size=13)
note(859, 170, "CET", size=13)

for x, y, t, s in [(290, 217, "temperatura", 12), (302, 217, "(°C)", 12), (290, 305, "opad", 12), (303, 305, "(mm/h, kg/m²/h)", 11.2),
                   (290, 393, "ciśnienie", 12), (303, 392, "(hPa)", 12), (290, 482, "wiatr", 12), (303, 482, "(m/s)", 12),
                   (290, 599, "pion. rozciągł. chm.", 12), (290, 656, "e", 12), (303, 590, "(km)", 12),
                   (888, 217, "(°C)", 12), (902, 217, "temperatura", 12), (888, 304, "(%)", 12), (902, 305, "wilgotność wzgl.", 12),
                   (888, 393, "(mm Hg)", 12), (902, 393, "ciśnienie", 12), (888, 481, "(km/h)", 12), (902, 483, "wiatr", 12),
                   (888, 592, "(km)", 12), (902, 595, "widzialność", 12)]:
    note(x, y, t, NAVY, "center", size=s, angle=-90)

for wx, nx, sx, ex in [(288, 300, 298, 305), (888, 898, 897, 905)]:
    note(wx, 536, "W", NAVY, "center", size=12)
    note(nx, 527, "N", NAVY, "center", size=11)
    note(sx, 543, "S", NAVY, "center", size=11)
    note(ex, 535, "E", NAVY, "center", size=11)

layout.update(width=W, height=H, margin=dict(l=0, r=0, t=0, b=0), paper_bgcolor="white", plot_bgcolor="rgba(0,0,0,0)",
              barmode="overlay", bargap=0, showlegend=False, shapes=shapes, annotations=notes,
              template="none", font=dict(family=FONT, size=12))
fig.update_layout(**layout)
fig.write_html("out.html", post_script="document.body.style.margin='0';document.body.style.overflow='hidden';",
               config={"displayModeBar": False})
